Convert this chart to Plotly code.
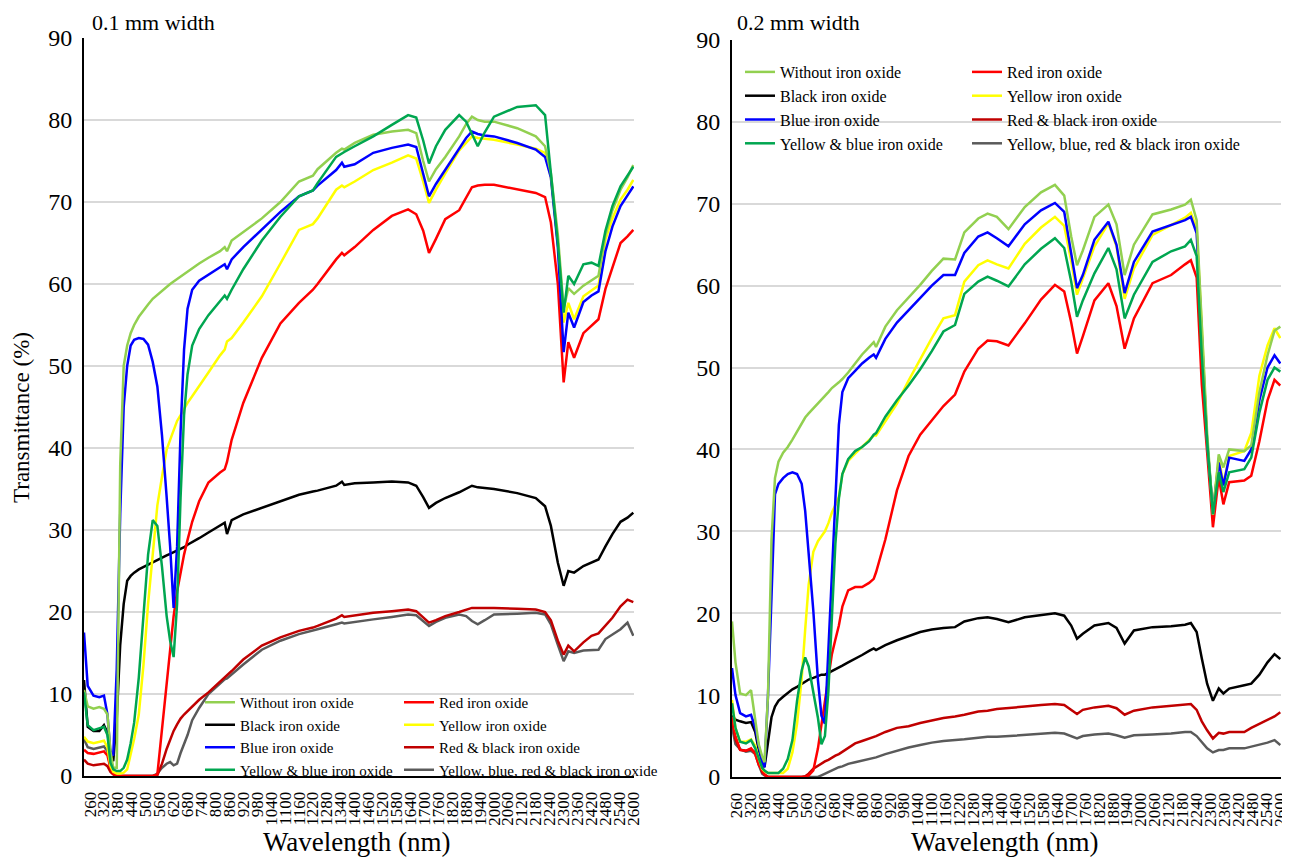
import plotly.graph_objects as go

# ---------------- data: 0.1 mm width (left panel) ----------------
WL_LEFT = [234, 250, 275, 300, 320, 335, 348, 360, 375, 390,
           405, 420, 435, 450, 470, 490, 510, 530, 550, 570,
           590, 605, 620, 635, 650, 665, 680, 700, 730, 770,
           820, 840, 850, 870, 920, 1000, 1080, 1160, 1220, 1240,
           1320, 1345, 1355, 1400, 1480, 1560, 1630, 1665, 1695, 1720,
           1750, 1790, 1850, 1880, 1905, 1930, 1960, 2000, 2100, 2180,
           2220, 2245, 2275, 2300, 2320, 2345, 2385, 2420, 2450, 2480,
           2510, 2545, 2575, 2600]

L_WITHOUT = [10.5, 8.5, 8.2, 8.4, 8.2, 7.5, 3.0, 1.0, 1.0, 38.0,
             50.0, 52.5, 54.0, 55.0, 56.0, 56.8, 57.5, 58.2, 58.7, 59.2,
             59.6, 60.0, 60.3, 60.6, 61.0, 61.3, 61.6, 62.0, 62.5, 63.2,
             64.0, 64.5, 64.0, 65.3, 66.3, 68.0, 70.0, 72.5, 73.2, 74.0,
             76.0, 76.5, 76.4, 77.2, 78.2, 78.6, 78.8, 78.4, 75.0, 72.5,
             74.0, 75.5, 78.0, 79.5, 80.4, 80.0, 79.8, 79.8, 79.0, 78.0,
             76.8, 73.5, 66.0, 57.0, 59.5, 58.8, 59.8, 60.5, 61.0, 66.0,
             69.0, 71.5, 73.0, 74.5]
L_BLACK = [11.7, 6.0, 5.5, 5.5, 6.2, 5.3, 2.8, 1.8, 7.0, 16.0,
           21.0, 23.8, 24.4, 24.8, 25.2, 25.5, 25.8, 26.0, 26.3, 26.6,
           26.9, 27.1, 27.3, 27.5, 27.7, 27.9, 28.2, 28.5, 29.0, 29.7,
           30.6, 30.9, 29.5, 31.2, 31.9, 32.7, 33.5, 34.3, 34.7, 34.8,
           35.4, 35.9, 35.5, 35.7, 35.8, 35.9, 35.8, 35.4, 34.0, 32.7,
           33.3, 33.9, 34.6, 35.0, 35.4, 35.2, 35.1, 35.0, 34.5, 33.9,
           32.9, 30.5, 26.0, 23.2, 25.0, 24.8, 25.6, 26.0, 26.4, 28.0,
           29.5, 31.0, 31.5, 32.1]
L_BLUE = [17.5, 11.0, 9.8, 9.6, 9.8, 7.5, 2.8, 2.5, 13.0, 32.0,
          45.0, 50.0, 52.5, 53.2, 53.4, 53.3, 52.6, 50.5, 47.5, 41.5,
          34.0, 28.0, 20.5, 28.0, 42.0, 52.0, 57.0, 59.3, 60.4, 61.1,
          62.0, 62.4, 61.8, 63.0, 64.5, 66.6, 68.8, 70.7, 71.4, 72.0,
          73.9, 74.8, 74.3, 74.6, 76.0, 76.6, 77.0, 76.7, 73.5, 70.7,
          72.2, 73.9, 76.5, 77.8, 78.6, 78.3, 78.1, 78.0, 77.2, 76.4,
          75.5, 73.0, 64.5, 51.7, 56.5, 54.7, 57.8, 58.6, 59.1, 64.0,
          67.0, 69.5, 70.8, 71.9]
L_YELLOW_BLUE = [10.2, 6.2, 5.6, 5.8, 6.0, 5.0, 1.6, 0.8, 0.6, 0.6,
                 1.0, 2.0, 4.0, 6.5, 12.0, 19.5, 27.0, 31.2, 30.5, 25.5,
                 19.5, 16.5, 14.5, 21.0, 34.0, 44.0, 49.0, 52.5, 54.5, 56.2,
                 58.0, 58.6, 58.2, 59.3, 61.8, 65.3, 68.2, 70.7, 71.4, 72.3,
                 75.5, 76.0, 76.1, 76.8, 78.0, 79.4, 80.6, 80.3, 77.5, 74.7,
                 76.8, 78.8, 80.6, 79.8, 78.3, 76.8, 78.5, 80.4, 81.6, 81.8,
                 80.6, 73.5, 65.0, 56.5, 61.0, 60.0, 62.4, 62.6, 62.2, 66.5,
                 69.5, 71.9, 73.2, 74.3]
L_RED = [3.2, 2.8, 2.7, 2.9, 3.0, 2.5, 1.0, 0.3, 0.0, 0.0,
         0.0, 0.0, 0.0, 0.0, 0.0, 0.0, 0.0, 0.0, 0.2, 5.5,
         11.5, 15.5, 19.5, 22.5, 25.0, 27.0, 28.8, 31.0, 33.5, 35.8,
         37.0, 37.4, 38.3, 41.0, 45.5, 51.0, 55.2, 57.7, 59.3, 60.0,
         63.0, 63.8, 63.5, 64.5, 66.6, 68.3, 69.1, 68.5, 66.5, 63.8,
         65.5, 67.9, 69.0, 70.5, 71.8, 72.0, 72.1, 72.1, 71.5, 71.1,
         70.6, 67.5, 60.0, 48.0, 52.9, 51.0, 54.0, 54.9, 55.7, 59.4,
         62.0, 65.0, 65.8, 66.6]
L_YELLOW = [4.8, 4.2, 4.0, 4.2, 4.3, 3.5, 1.2, 0.5, 0.3, 0.3,
            0.4, 0.8, 2.5, 4.5, 7.5, 13.5, 21.0, 27.5, 33.0, 36.5,
            39.8, 41.0, 42.2, 43.3, 44.0, 44.8, 45.5, 46.3, 47.5, 49.2,
            51.3, 52.0, 53.0, 53.4, 55.3, 58.5, 62.5, 66.6, 67.3, 68.0,
            71.5, 72.0, 71.8, 72.5, 73.9, 74.8, 75.7, 75.3, 72.5, 69.9,
            71.5, 73.5, 76.3, 77.3, 78.0, 77.8, 77.7, 77.6, 77.0, 76.5,
            76.0, 73.0, 65.0, 55.3, 57.7, 55.7, 58.5, 59.2, 59.8, 65.4,
            68.0, 70.3, 71.5, 72.7]
L_RED_BLACK = [2.0, 1.5, 1.3, 1.4, 1.5, 1.2, 0.5, 0.2, 0.0, 0.0,
               0.0, 0.0, 0.0, 0.0, 0.0, 0.0, 0.0, 0.0, 0.1, 1.5,
               3.3, 4.5, 5.5, 6.3, 7.0, 7.5, 7.9, 8.5, 9.3, 10.2,
               11.5, 12.0, 12.2, 12.8, 14.2, 15.9, 16.9, 17.7, 18.1, 18.3,
               19.2, 19.6, 19.4, 19.6, 19.9, 20.1, 20.3, 20.1, 19.4, 18.7,
               19.0, 19.5, 20.0, 20.3, 20.5, 20.5, 20.5, 20.5, 20.4, 20.3,
               20.0, 19.0, 16.5, 14.8, 15.9, 15.2, 16.3, 17.1, 17.4, 18.3,
               19.3, 20.7, 21.5, 21.2]
L_ALL_FOUR = [4.5, 3.5, 3.3, 3.5, 3.6, 3.0, 1.0, 0.3, 0.0, 0.0,
              0.0, 0.0, 0.0, 0.0, 0.0, 0.0, 0.0, 0.0, 0.3, 1.0,
              1.5, 1.7, 1.3, 1.5, 2.8, 3.8, 5.0, 6.8, 8.3, 10.0,
              11.3, 11.8, 11.9, 12.4, 13.6, 15.4, 16.5, 17.3, 17.7, 17.9,
              18.5, 18.7, 18.6, 18.8, 19.1, 19.4, 19.7, 19.6, 18.9, 18.3,
              18.8, 19.3, 19.7, 19.5, 18.9, 18.5, 19.0, 19.7, 19.8, 19.9,
              19.7, 18.5, 16.0, 14.0, 15.2, 15.0, 15.3, 15.4, 15.4, 16.7,
              17.3, 17.9, 18.7, 17.1]

# ---------------- data: 0.2 mm width (right panel) ----------------
WL_RIGHT = [240, 255, 275, 300, 322, 340, 355, 370, 380, 395,
            410, 425, 440, 460, 480, 500, 520, 540, 555, 570,
            590, 610, 625, 640, 655, 670, 685, 700, 715, 740,
            770, 800, 830, 850, 860, 900, 950, 1000, 1050, 1100,
            1150, 1200, 1240, 1300, 1340, 1380, 1430, 1500, 1570, 1630,
            1670, 1700, 1725, 1750, 1800, 1860, 1895, 1930, 1970, 2050,
            2130, 2190, 2215, 2240, 2262, 2285, 2310, 2335, 2355, 2380,
            2445, 2475, 2510, 2545, 2575, 2600]

R_WITHOUT = [19.0, 14.0, 10.2, 10.0, 10.6, 7.0, 4.0, 2.5, 1.8, 10.0,
             29.0, 36.5, 38.5, 39.6, 40.3, 41.2, 42.2, 43.2, 43.9, 44.4,
             45.0, 45.6, 46.0, 46.5, 47.0, 47.5, 47.8, 48.2, 48.6, 49.4,
             50.5, 51.6, 52.5, 53.1, 52.5, 55.0, 57.0, 58.5, 60.1, 61.8,
             63.3, 63.2, 66.5, 68.2, 68.8, 68.4, 66.9, 69.6, 71.4, 72.3,
             71.0, 66.0, 62.5, 64.3, 68.4, 69.9, 67.5, 61.3, 65.0, 68.7,
             69.3, 69.9, 70.5, 68.0, 56.0, 42.0, 32.0, 39.4, 37.8, 40.0,
             39.8, 40.5, 47.0, 51.5, 54.5, 55.0]
R_BLACK = [7.5, 7.0, 6.8, 6.6, 6.7, 5.5, 3.3, 1.8, 1.2, 4.5,
           7.3, 8.6, 9.3, 9.8, 10.3, 10.7, 11.0, 11.4, 11.7, 11.9,
           12.1, 12.3, 12.5, 12.5, 12.7, 13.0, 13.2, 13.4, 13.6, 14.0,
           14.4, 14.9, 15.4, 15.7, 15.5, 16.1, 16.7, 17.2, 17.7, 18.0,
           18.2, 18.3, 19.0, 19.4, 19.5, 19.3, 18.9, 19.5, 19.8, 20.0,
           19.7, 18.5, 16.9, 17.5, 18.5, 18.8, 18.2, 16.3, 17.9, 18.3,
           18.4, 18.6, 18.8, 17.7, 14.5, 11.4, 9.3, 10.8, 10.2, 10.8,
           11.2, 11.4, 12.5, 14.0, 15.0, 14.4]
R_BLUE = [13.3, 10.0, 7.8, 7.4, 7.6, 6.0, 3.8, 1.8, 1.2, 10.0,
          22.0, 34.5, 35.8, 36.5, 37.0, 37.2, 37.0, 35.8, 32.5, 27.5,
          20.3, 11.8, 7.5, 6.5, 16.0, 25.5, 35.5, 43.0, 47.0, 48.7,
          49.6, 50.5, 51.2, 51.6, 51.2, 53.5, 55.5, 57.0, 58.4, 60.0,
          61.3, 61.3, 64.0, 66.0, 66.5, 65.8, 64.8, 67.5, 69.2, 70.1,
          69.0, 64.0, 59.7, 61.3, 65.6, 67.8, 65.0, 59.1, 62.9, 66.6,
          67.4, 68.0, 68.4, 66.4, 54.0, 41.0, 32.5, 38.4, 35.6, 39.0,
          38.6, 40.0, 46.0, 50.0, 51.5, 50.5]
R_YELLOW_BLUE = [9.0, 6.0, 4.3, 4.1, 4.5, 3.5, 2.3, 1.1, 0.8, 0.5,
                 0.5, 0.5, 0.5, 1.0, 2.2, 4.5, 9.3, 13.0, 14.6, 13.5,
                 10.5, 7.2, 4.0, 5.0, 10.5, 19.0, 28.5, 34.0, 37.0, 38.8,
                 39.8, 40.3, 41.0, 41.8, 42.0, 44.0, 46.0, 47.8, 49.8, 52.0,
                 54.4, 55.2, 59.0, 60.5, 61.1, 60.6, 59.9, 62.6, 64.5, 65.8,
                 64.6, 60.5, 56.2, 58.2, 61.5, 64.6, 62.0, 56.0, 58.9, 62.9,
                 64.2, 64.8, 65.6, 63.6, 51.5, 41.0, 32.1, 37.2, 34.8, 37.2,
                 37.6, 39.0, 44.5, 48.5, 50.0, 49.5]
R_RED = [7.3, 5.0, 3.3, 3.2, 3.5, 2.8, 1.5, 0.7, 0.3, 0.0,
         0.0, 0.0, 0.0, 0.0, 0.0, 0.0, 0.0, 0.0, 0.0, 0.2,
         0.8, 3.5, 6.5, 9.5, 12.0, 15.0, 16.8, 18.5, 20.8, 22.8,
         23.2, 23.2, 23.7, 24.2, 25.0, 29.0, 35.0, 39.2, 41.8, 43.5,
         45.3, 46.7, 49.5, 52.3, 53.3, 53.2, 52.7, 55.4, 58.3, 60.1,
         59.3, 55.5, 51.7, 53.8, 58.2, 60.3, 57.5, 52.3, 56.0, 60.3,
         61.3, 62.6, 63.1, 61.0, 48.0, 39.7, 30.5, 36.6, 33.3, 36.0,
         36.2, 36.8, 41.0, 46.0, 48.5, 47.8]
R_YELLOW = [9.4, 6.0, 4.3, 4.3, 4.6, 3.8, 2.3, 1.0, 0.7, 0.5,
            0.5, 0.5, 0.5, 0.5, 1.0, 3.0, 6.5, 12.0, 18.0, 23.5,
            27.5, 28.8, 29.4, 30.0, 31.0, 32.3, 33.2, 34.2, 37.0, 38.6,
            39.5, 40.3, 41.1, 41.7, 41.7, 43.5, 45.6, 48.4, 51.0, 53.6,
            56.0, 56.4, 60.5, 62.5, 63.1, 62.6, 62.1, 65.1, 67.1, 68.4,
            67.3, 63.0, 58.9, 60.9, 64.8, 67.6, 64.8, 58.4, 62.1, 66.2,
            67.4, 68.3, 68.9, 67.0, 55.0, 41.0, 32.5, 39.0, 35.8, 39.2,
            39.8, 42.0, 49.0, 52.7, 54.8, 53.6]
R_RED_BLACK = [7.0, 4.6, 3.3, 3.2, 3.4, 3.0, 1.8, 0.6, 0.3, 0.0,
               0.0, 0.0, 0.0, 0.0, 0.0, 0.0, 0.0, 0.0, 0.1, 0.4,
               1.0, 1.4, 1.6, 1.9, 2.1, 2.3, 2.6, 2.8, 3.1, 3.5,
               4.1, 4.4, 4.7, 4.9, 5.0, 5.5, 6.0, 6.2, 6.6, 6.9,
               7.2, 7.4, 7.6, 8.0, 8.1, 8.3, 8.4, 8.6, 8.8, 8.9,
               8.8, 8.2, 7.7, 8.2, 8.5, 8.7, 8.4, 7.6, 8.1, 8.5,
               8.7, 8.9, 8.9, 8.2, 6.8, 5.7, 4.7, 5.4, 5.3, 5.5,
               5.5, 6.0, 6.5, 6.9, 7.4, 7.9]
R_ALL_FOUR = [6.1, 4.0, 3.4, 3.1, 3.2, 2.8, 1.5, 0.4, 0.2, 0.0,
              0.0, 0.0, 0.0, 0.0, 0.0, 0.0, 0.0, 0.0, 0.0, 0.0,
              0.0, 0.0, 0.2, 0.4, 0.6, 0.8, 1.0, 1.2, 1.3, 1.6,
              1.8, 2.0, 2.2, 2.4, 2.4, 2.8, 3.2, 3.6, 3.9, 4.2,
              4.4, 4.5, 4.6, 4.8, 4.9, 4.9, 5.0, 5.1, 5.3, 5.4,
              5.3, 5.0, 4.7, 5.0, 5.2, 5.3, 5.1, 4.8, 5.1, 5.2,
              5.3, 5.5, 5.5, 5.0, 4.2, 3.5, 3.0, 3.3, 3.3, 3.5,
              3.5, 3.7, 3.9, 4.2, 4.5, 3.9]

NAMES = ["Without iron oxide", "Black iron oxide", "Blue iron oxide",
         "Yellow & blue iron oxide", "Red iron oxide", "Yellow iron oxide",
         "Red & black iron oxide", "Yellow, blue, red & black iron oxide"]
COLORS = ["#92D050", "#000000", "#0000FF", "#00A650",
          "#FF0000", "#FFFF00", "#C00000", "#5A5A5A"]
TICK_WL = list(range(260, 2601, 60))
PANEL_TITLES = ["0.1 mm width", "0.2 mm width"]

LEFT = [L_WITHOUT, L_BLACK, L_BLUE, L_YELLOW_BLUE, L_RED, L_YELLOW, L_RED_BLACK, L_ALL_FOUR]
RIGHT = [R_WITHOUT, R_BLACK, R_BLUE, R_YELLOW_BLUE, R_RED, R_YELLOW, R_RED_BLACK, R_ALL_FOUR]

FONT = "Liberation Serif"
PAGE_OFFSET = 8  # default body margin of the html page
W, H = 1290 - PAGE_OFFSET, 859 - PAGE_OFFSET

# drawing order (bottom first)
DRAW_ORDER = [7, 6, 1, 4, 5, 2, 0, 3]

fig = go.Figure()
for panel, (wl, series, xa, ya, legs) in enumerate([
        (WL_LEFT, LEFT, "x", "y", ("legend", "legend2")),
        (WL_RIGHT, RIGHT, "x2", "y2", ("legend3", "legend4"))]):
    for i in DRAW_ORDER:
        fig.add_trace(go.Scatter(
            x=wl, y=series[i], mode="lines", name=NAMES[i],
            line=dict(color=COLORS[i], width=2.5),
            xaxis=xa, yaxis=ya,
            legend=legs[0] if i < 4 else legs[1],
            legendrank=i + 1,
        ))

axis_common = dict(showline=True, linecolor="black", linewidth=2, zeroline=False,
                   ticks="", color="black", automargin=False)
xcommon = dict(axis_common, tickmode="array", tickvals=TICK_WL,
               ticktext=[str(v) for v in TICK_WL], tickangle=-90,
               tickfont=dict(family=FONT, size=17, color="black"),
               showgrid=False, ticklabelstandoff=7)
ycommon = dict(axis_common, range=[0, 90], tickmode="linear", tick0=0, dtick=10,
               tickfont=dict(family=FONT, size=24, color="black"),
               showgrid=True, gridcolor="#D9D9D9", gridwidth=1.5,
               ticklabelstandoff=5)


def px_x(p):
    """screen pixel column -> paper fraction"""
    return (p - PAGE_OFFSET) / W


def px_y(p):
    """screen pixel row -> paper fraction"""
    return 1 - (p - PAGE_OFFSET) / H


legend_common = dict(xanchor="left", yanchor="top", bgcolor="rgba(0,0,0,0)",
                     orientation="v", tracegroupgap=0, itemwidth=30,
                     traceorder="normal")

fig.update_layout(
    width=W, height=H,
    margin=dict(l=0, r=0, t=0, b=0, pad=0, autoexpand=False),
    paper_bgcolor="white", plot_bgcolor="white",
    font=dict(family=FONT, color="black"),
    xaxis=dict(xcommon, domain=[px_x(84), px_x(634)], range=[234, 2603], anchor="y"),
    yaxis=dict(ycommon, domain=[px_y(776), px_y(38)], anchor="x"),
    xaxis2=dict(xcommon, domain=[px_x(732), px_x(1281)], range=[240, 2603], anchor="y2"),
    yaxis2=dict(ycommon, domain=[px_y(777), px_y(40)], anchor="x2"),
    legend=dict(legend_common, x=px_x(200), y=px_y(686), font=dict(family=FONT, size=15)),
    legend2=dict(legend_common, x=px_x(399), y=px_y(686), font=dict(family=FONT, size=15)),
    legend3=dict(legend_common, x=px_x(740), y=px_y(55), font=dict(family=FONT, size=16)),
    legend4=dict(legend_common, x=px_x(967), y=px_y(55), font=dict(family=FONT, size=16)),
    annotations=[
        dict(text=PANEL_TITLES[0], x=px_x(90), y=px_y(22), xref="paper", yref="paper",
             xanchor="left", yanchor="middle", showarrow=False,
             font=dict(family=FONT, size=22)),
        dict(text=PANEL_TITLES[1], x=px_x(735), y=px_y(22), xref="paper", yref="paper",
             xanchor="left", yanchor="middle", showarrow=False,
             font=dict(family=FONT, size=22)),
        dict(text="Wavelength (nm)", x=px_x(357), y=px_y(842), xref="paper", yref="paper",
             xanchor="center", yanchor="middle", showarrow=False,
             font=dict(family=FONT, size=27)),
        dict(text="Wavelength (nm)", x=px_x(1005), y=px_y(842), xref="paper", yref="paper",
             xanchor="center", yanchor="middle", showarrow=False,
             font=dict(family=FONT, size=27)),
        dict(text="Transmittance (%)", x=px_x(21), y=px_y(418), xref="paper", yref="paper",
             xanchor="center", yanchor="middle", showarrow=False, textangle=-90,
             font=dict(family=FONT, size=23)),
    ],
)

fig.write_html("out.html")
